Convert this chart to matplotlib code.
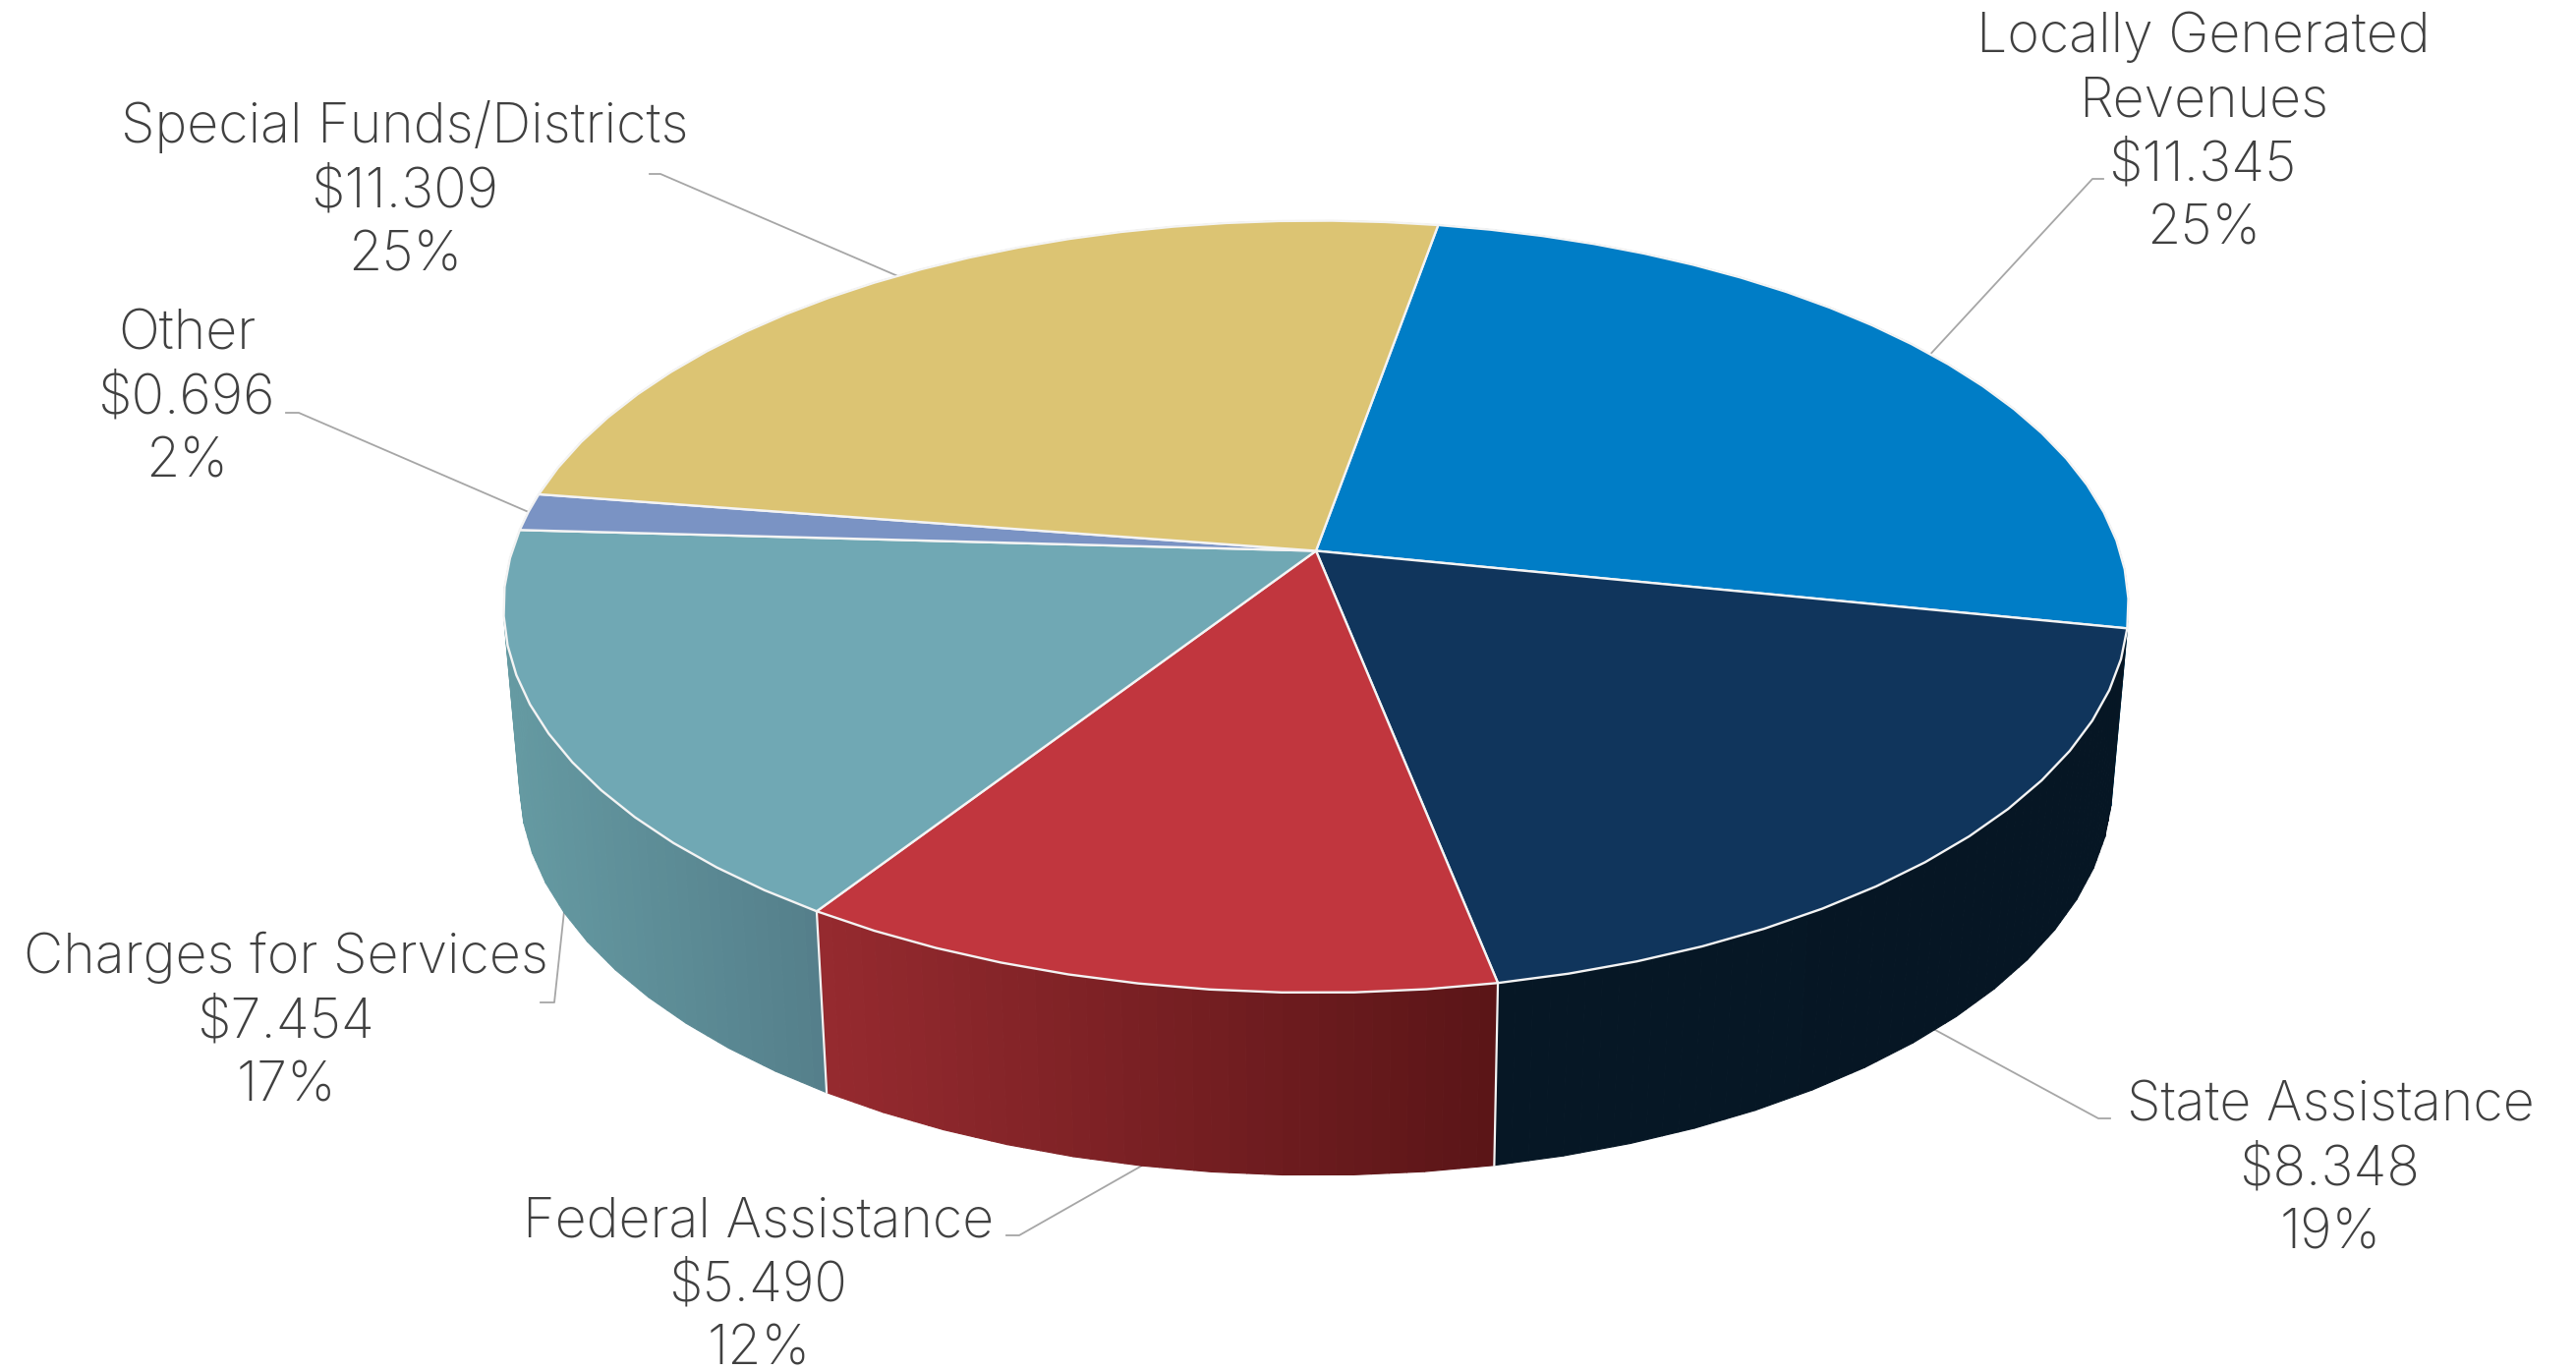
import numpy as np
import matplotlib
matplotlib.use("Agg")
import matplotlib.pyplot as plt
from matplotlib.collections import PolyCollection
from matplotlib.colors import to_rgb

# in pie order, clockwise from the start angle ($ millions as printed)
categories = ["Locally Generated\nRevenues", "State Assistance", "Federal Assistance",
              "Charges for Services", "Other", "Special Funds/Districts"]
amounts = np.array([11.345, 8.348, 5.490, 7.454, 0.696, 11.309])
percents = ["25%", "19%", "12%", "17%", "2%", "25%"]

top_colors = ["#007dc6", "#10355c", "#c1363e", "#70a8b4", "#7a93c4", "#dcc473"]
wall_left = ["#006090", "#061725", "#962a2f", "#659aa2", "#5a7090", "#a89858"]
wall_right = ["#006090", "#061624", "#5a1517", "#547e8a", "#5a7090", "#a89858"]

# label centre x, first baseline y, leader knee x/y and stub end x
label_x = [2242, 2371, 772, 291, 190, 412]
label_y = [53, 1140, 1258, 990, 355, 145]
knee_x = [2129, 2135, 1037, 564, 304, 672]
knee_y = [182, 1138, 1257, 1020, 420, 177]
stub_x = [2140, 2147, 1024, 550, 291, 661]
leader_on_bottom = [False, True, True, True, False, False]

start_angle = 10.0
cx, cy = 1339.0, 560.5
rx, ry, persp = 818.0, 384.6, 0.1447
base_sx, base_sy, base_dy = 0.98, 1.014, 179.4
line_step = 65.2
facet_deg = 4.5
text_color = "#404040"
leader_color = "#a6a6a6"


def top_rim(angle):
    t = np.radians(angle)
    x, y = np.sin(t), np.cos(t)
    d = 1 + persp * y
    return cx + rx * x / d, cy - ry * y / d


def to_base(x, y):
    return cx + base_sx * (x - cx), cy + base_sy * (y - cy) + base_dy


def faceted_rim(a0, a1, sub=1):
    # the reference rim is a polygon, not a smooth curve
    n = int(np.ceil((a1 - a0) / facet_deg)) + 1
    corners = np.linspace(a0, a1, n)
    xs, ys = top_rim(corners)
    pos = np.linspace(0, n - 1, (n - 1) * sub + 1)
    return np.interp(pos, np.arange(n), xs), np.interp(pos, np.arange(n), ys)


fig = plt.figure(figsize=(26.21, 13.94), dpi=100)
ax = fig.add_axes([0, 0, 1, 1])
ax.set_xlim(0, 2621)
ax.set_ylim(1394, 0)
ax.axis("off")

edges = start_angle + np.concatenate([[0], np.cumsum(amounts)]) / amounts.sum() * 360

# side walls first, the top faces cover whatever is behind
for i in range(len(amounts)):
    xt, yt = faceted_rim(edges[i], edges[i + 1], sub=4)
    xb, yb = to_base(xt, yt)
    quads, colors = [], []
    lo, hi = min(xt.min(), xb.min()), max(xt.max(), xb.max())
    for j in range(len(xt) - 1):
        quads.append([(xt[j], yt[j]), (xt[j + 1], yt[j + 1]), (xb[j + 1], yb[j + 1]), (xb[j], yb[j])])
        f = ((xt[j] + xt[j + 1]) / 2 - lo) / (hi - lo)
        colors.append(tuple((1 - f) * np.array(to_rgb(wall_left[i])) + f * np.array(to_rgb(wall_right[i]))))
    ax.add_collection(PolyCollection(quads, facecolors=colors, edgecolors=colors, linewidths=0.8, zorder=2))

# white seams between the walls on the front
for i in [2, 3]:
    xa, ya = top_rim(edges[i])
    xb, yb = to_base(xa, ya)
    ax.plot([xa, xb], [ya, yb], color="#f2f2f2", lw=1.6, zorder=3)

for i in range(len(amounts)):
    xs, ys = faceted_rim(edges[i], edges[i + 1])
    ax.fill(np.r_[cx, xs], np.r_[cy, ys], facecolor=top_colors[i], edgecolor="#f4f4f4", lw=1.7,
            joinstyle="round", zorder=4)

for i in range(len(amounts)):
    mid = (edges[i] + edges[i + 1]) / 2
    ex, ey = top_rim(mid)
    if leader_on_bottom[i]:
        ex, ey = to_base(ex, ey)
    ax.plot([ex, knee_x[i], stub_x[i]], [ey, knee_y[i], knee_y[i]], color=leader_color, lw=1.3, zorder=1)

    lines = categories[i].split("\n") + [f"${amounts[i]:.3f}", percents[i]]
    for n, line in enumerate(lines):
        ax.text(label_x[i], label_y[i] + n * line_step, line, ha="center", va="baseline",
                fontsize=40, color=text_color, family=["Inter", "DejaVu Sans"], fontweight="light")

fig.savefig("out.png", dpi=100, facecolor="white")
